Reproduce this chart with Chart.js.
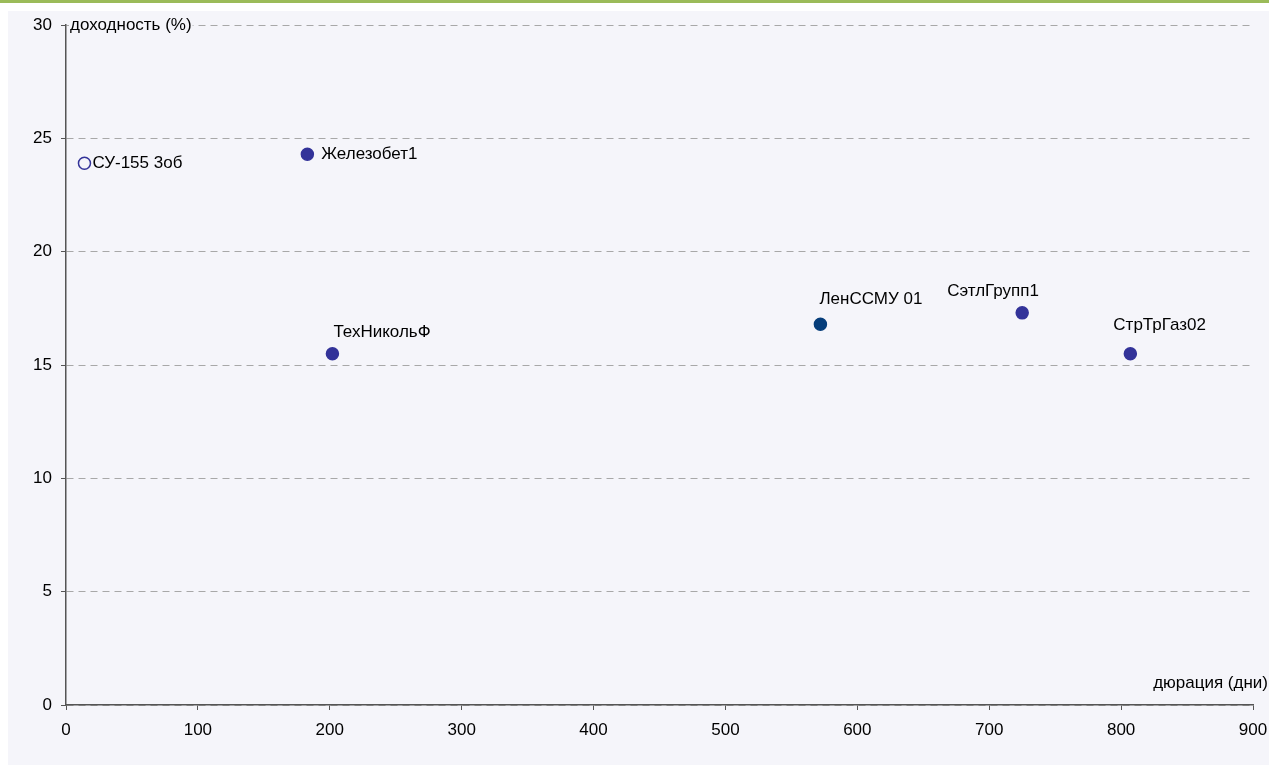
<!DOCTYPE html>
<html>
<head>
<meta charset="utf-8">
<script src="https://cdn.jsdelivr.net/npm/chart.js@4/dist/chart.umd.min.js"></script>
<style>
  body { margin: 0; background: #fff; }
</style>
</head>
<body>
<canvas id="chartBonds" width="1269" height="765"></canvas>
<script>
// облигации: дюрация (дни) / доходность (%)
const names = ['СУ-155 3об', 'Железобет1', 'ТехНикольФ', 'ЛенССМУ 01', 'СэтлГрупп1', 'СтрТрГаз02'];
const duration = [14, 183, 202, 572, 725, 807];
const yieldPct = [23.9, 24.3, 15.5, 16.8, 17.3, 15.5];
const xTicks = [0, 100, 200, 300, 400, 500, 600, 700, 800, 900];
const yTicks = [0, 5, 10, 15, 20, 25, 30];

// style only
const dotFill = ['#f5f5fa', '#333399', '#333399', '#063d7a', '#333399', '#333399'];
const dotBorder = ['#333399', '#333399', '#333399', '#063d7a', '#333399', '#333399'];
// label offsets from point centre, px
const labelOffsets = [[8, 0], [14, 0], [1, -21], [-1, -25], [-75, -22], [-17, -28]];

const FAMILY = '"Liberation Sans", Arial, sans-serif';
const FONT = '17px ' + FAMILY;
const BG = '#f5f5fa';

const backdrop = {
    id: 'backdrop',
    beforeDraw(chart) {
        const c = chart.ctx;
        c.save();
        c.fillStyle = '#fff';
        c.fillRect(0, 0, chart.width, chart.height);
        c.fillStyle = '#9bbb59';
        c.fillRect(0, 0, chart.width, 3);
        c.fillStyle = BG;
        c.fillRect(8, 11, chart.width - 8, chart.height - 11);
        c.restore();
    }
};

const labels = {
    id: 'labels',
    afterDraw(chart) {
        const c = chart.ctx;
        const meta = chart.getDatasetMeta(0);
        c.save();
        c.font = FONT;
        c.fillStyle = '#000';
        c.textBaseline = 'middle';
        c.textAlign = 'left';
        meta.data.forEach((pt, i) => {
            c.fillText(names[i], pt.x + labelOffsets[i][0], pt.y + labelOffsets[i][1]);
        });
        // axis titles
        const area = chart.chartArea;
        const yTop = chart.scales.y.getPixelForValue(30);
        const t = 'доходность (%)';
        const w = c.measureText(t).width;
        c.fillStyle = BG;
        c.fillRect(area.left + 3, yTop - 9, w + 2, 18);
        c.fillStyle = '#000';
        c.fillText(t, area.left + 4, yTop);
        c.textAlign = 'right';
        c.fillText('дюрация (дни)', chart.width - 1, area.bottom - 22);
        c.restore();
    }
};

new Chart(document.getElementById('chartBonds').getContext('2d'), {
    type: 'scatter',
    data: {
        datasets: [{
            data: duration.map((d, i) => ({x: d, y: yieldPct[i]})),
            pointRadius: 6,
            pointHoverRadius: 6,
            pointBackgroundColor: dotFill,
            pointBorderColor: dotBorder,
            pointBorderWidth: 1.5
        }]
    },
    options: {
        responsive: false,
        animation: false,
        events: [],
        layout: { padding: { left: 0, top: 25, right: 16, bottom: 0 } },
        plugins: { legend: { display: false }, tooltip: { enabled: false } },
        scales: {
            x: {
                type: 'linear',
                min: 0, max: 900,
                afterBuildTicks(s) { s.ticks = xTicks.map(v => ({value: v})); },
                afterFit(s) { s.height = 60; s.paddingLeft = 0; s.paddingRight = 0; },
                grid: { drawOnChartArea: false, tickLength: 5, tickColor: '#555' },
                border: { color: '#555', width: 1.5 },
                ticks: { color: '#000', font: { family: FAMILY, size: 17 }, padding: 10, maxRotation: 0 }
            },
            y: {
                type: 'linear',
                min: 0, max: 30,
                afterBuildTicks(s) { s.ticks = yTicks.map(v => ({value: v})); },
                afterFit(s) { s.width = 66; s.paddingTop = 0; s.paddingBottom = 0; },
                grid: { color: '#a8a8a8', tickLength: 5, tickColor: '#555' },
                border: { color: '#555', width: 1.5, dash: [7, 5] },
                ticks: { color: '#000', font: { family: FAMILY, size: 17 }, padding: 9 }
            }
        }
    },
    plugins: [backdrop, labels]
});
</script>
</body>
</html>
